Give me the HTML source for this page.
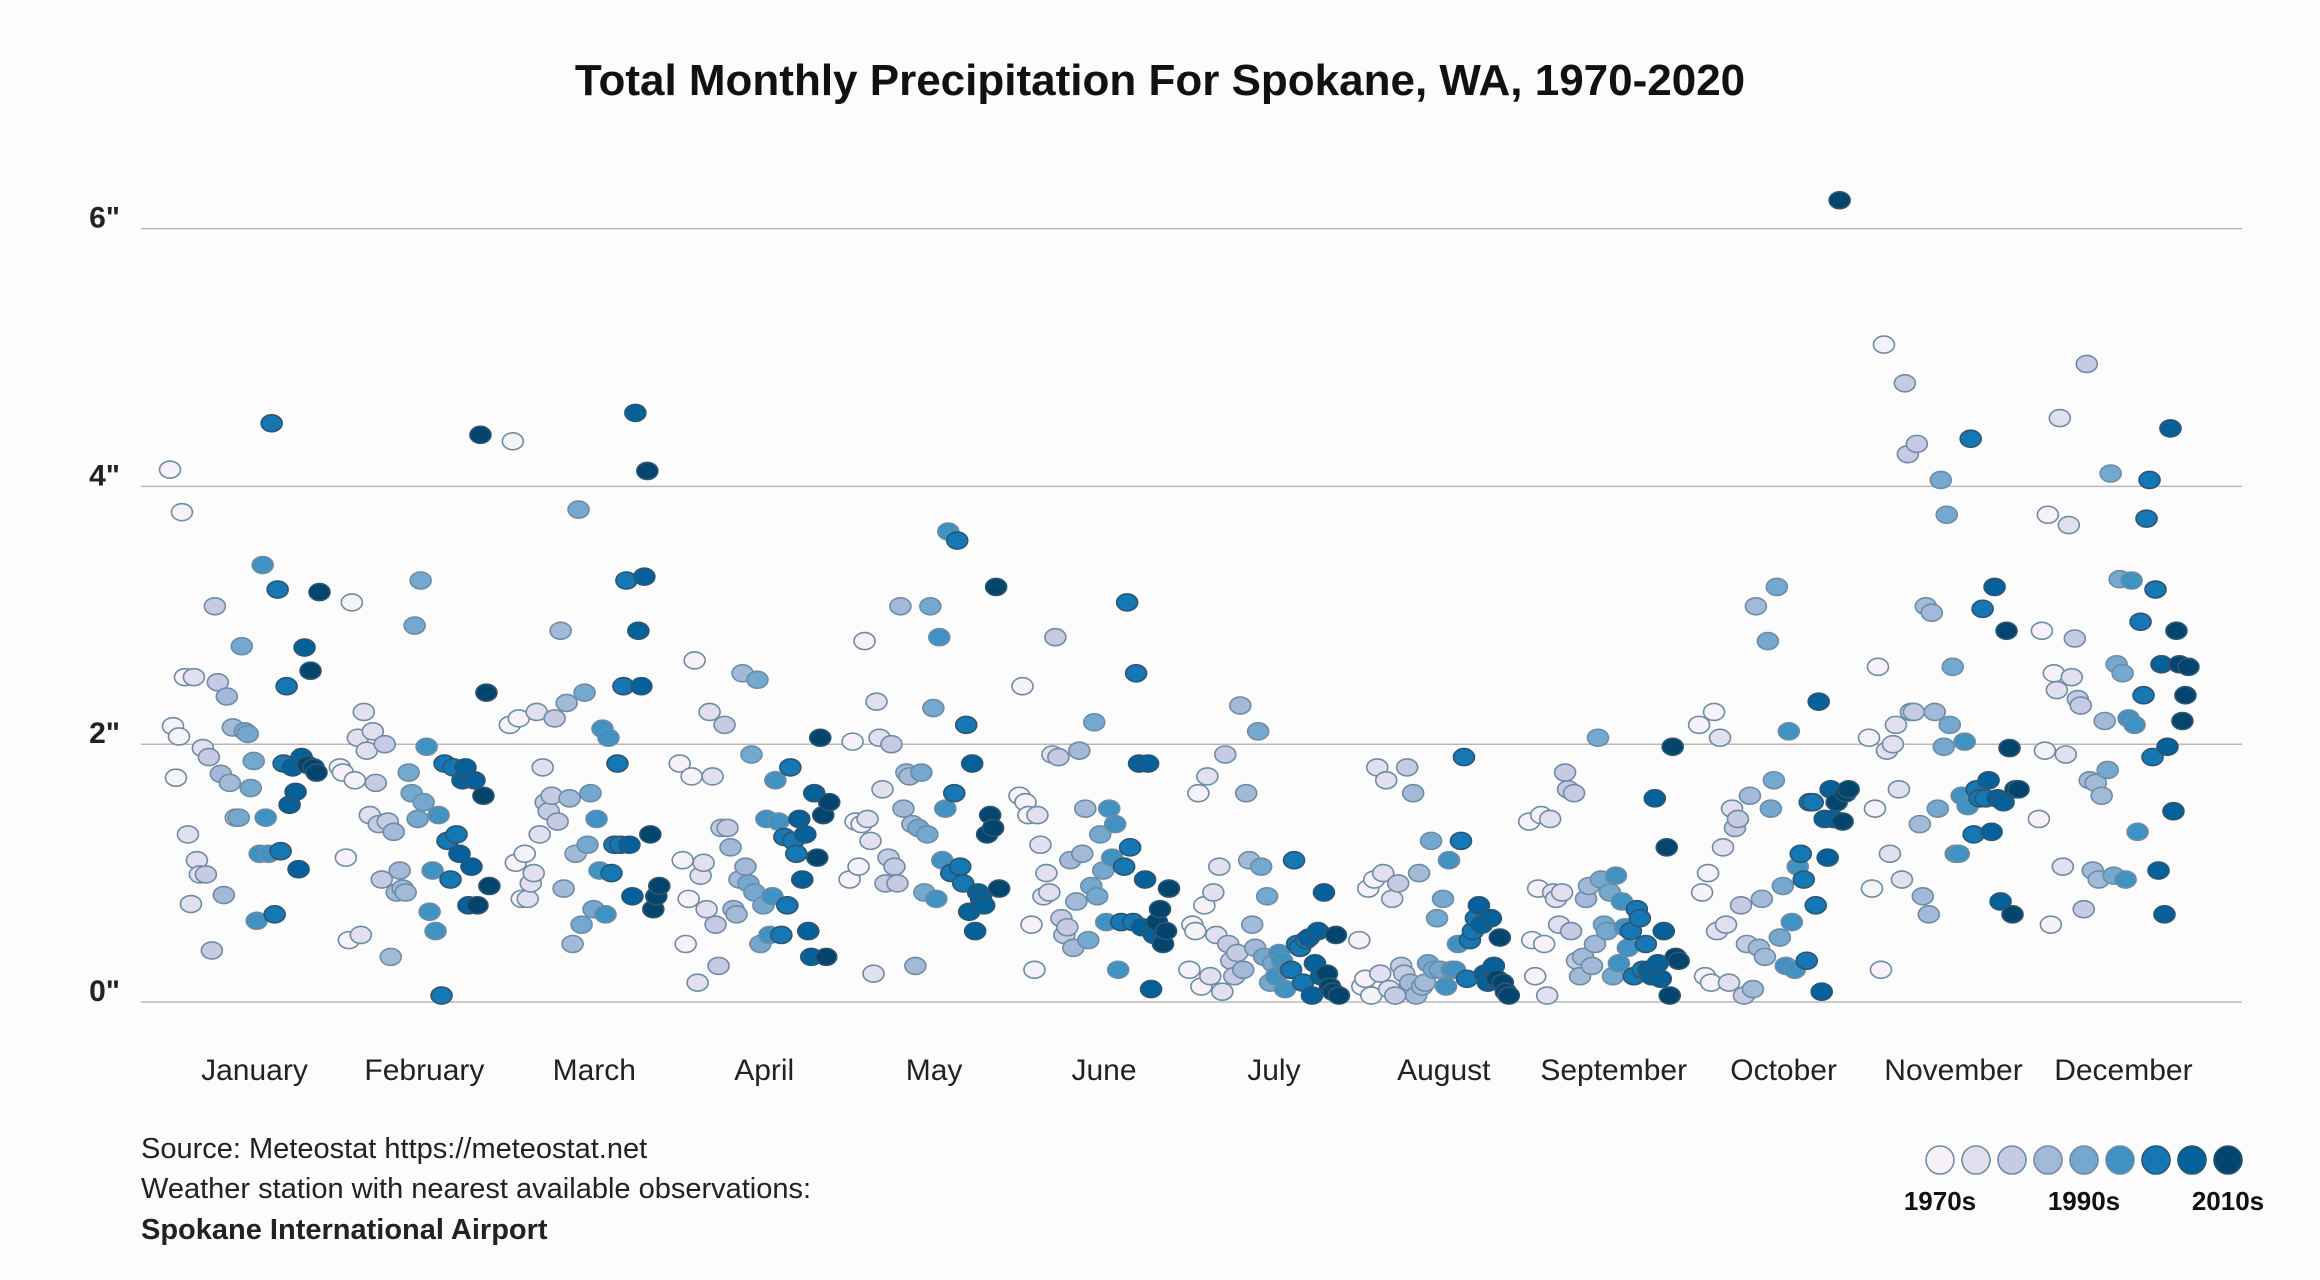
<!DOCTYPE html>
<html><head><meta charset="utf-8"><style>
html,body{margin:0;padding:0;background:#fdfcfd;}
svg{display:block;font-family:"Liberation Sans",sans-serif;}
</style></head><body>
<svg id="chart" width="2320" height="1280" viewBox="0 0 2320 1280">
<text x="1160" y="95" text-anchor="middle" font-size="44" font-weight="bold" fill="#111">Total Monthly Precipitation For Spokane, WA, 1970-2020</text>
<g id="grid"></g>
<g id="yaxis"></g>
<g id="xaxis"></g>
<g id="points"></g>
<g font-size="29" fill="#222">
<text x="141" y="1158">Source: Meteostat https://meteostat.net</text>
<text x="141" y="1198">Weather station with nearest available observations:</text>
<text x="141" y="1239" font-weight="bold">Spokane International Airport</text>
</g>
<g id="legend"></g>
</svg>
<script>
const months=["January","February","March","April","May","June","July","August","September","October","November","December"];
const yTicks=[0,2,4,6];
const yTickLabels=['0"','2"','4"','6"'];
const decadeColors=['#f6f2f8','#e2e0ee','#c6cbe3','#a2bad8','#75a8cf','#3f92c1','#1577b3','#06609a','#04456e'];
const legendLabels=["1970s","1990s","2010s"];
const janVals=[4.13,2.14,1.74,2.06,3.8,2.52,1.3,0.76,2.52,1.1,0.99,1.97,0.99,1.9,0.4,3.07,2.48,1.77,0.83,2.37,1.7,2.13,1.43,1.43,2.76,2.1,2.08,1.66,1.87,0.63,1.15,3.39,1.43,1.15,4.49,0.68,3.2,1.17,1.85,2.45,1.53,1.82,1.63,1.03,1.9,2.75,1.84,2.57,1.82,1.78,3.18];
const febVals=[1.82,1.78,1.12,0.48,3.1,1.72,2.05,0.52,2.25,1.95,1.45,2.1,1.7,1.38,0.95,2.0,1.4,0.35,1.32,0.85,1.02,0.88,0.85,1.78,1.62,2.92,1.42,3.27,1.55,1.98,0.7,1.02,0.55,1.45,0.05,1.85,1.25,0.95,1.82,1.3,1.15,1.72,1.82,0.75,1.05,1.72,0.75,4.4,1.6,2.4,0.9];
const marVals=[2.15,4.35,1.08,2.2,0.8,1.15,0.8,0.92,1.0,2.25,1.3,1.82,1.55,1.48,1.6,2.2,1.4,2.88,0.88,2.32,1.58,0.45,1.15,3.82,0.6,2.4,1.22,1.62,0.72,1.42,1.02,2.12,0.68,2.05,1.0,1.22,1.85,1.22,2.45,3.27,1.22,0.82,4.57,2.88,2.45,3.3,4.12,1.3,0.72,0.82,0.9];
const aprVals=[1.85,1.1,0.45,0.8,1.75,2.65,0.15,0.98,1.08,0.72,2.25,1.75,0.6,0.28,1.35,2.15,1.35,1.2,0.72,0.68,0.95,2.55,1.05,0.92,1.92,0.85,2.5,0.45,0.75,1.42,0.52,0.82,1.72,1.4,0.52,1.28,0.75,1.82,1.25,1.15,1.42,0.95,1.3,0.55,0.35,1.62,1.12,2.05,1.45,0.35,1.55];
const mayVals=[0.95,2.02,1.4,1.05,1.38,2.8,1.42,1.25,0.22,2.33,2.05,1.65,0.92,1.12,2.0,1.05,0.92,3.07,1.5,1.78,1.75,1.38,0.28,1.35,1.78,0.85,1.3,3.07,2.28,0.8,2.83,1.1,1.5,3.65,1.0,1.62,3.58,1.05,0.92,2.15,0.7,1.85,0.55,0.85,0.8,0.75,1.3,1.45,1.35,3.22,0.88];
const junVals=[1.6,2.45,1.55,1.45,0.6,0.25,1.45,1.22,0.82,1.0,0.85,1.92,2.83,1.9,0.65,0.52,0.58,1.1,0.42,0.78,1.95,1.15,1.5,0.48,0.9,2.17,0.82,1.3,1.02,0.62,1.5,1.12,1.38,0.25,0.62,1.05,3.1,1.2,0.62,2.55,1.85,0.58,0.95,1.85,0.1,0.52,0.62,0.72,0.45,0.55,0.88];
const julVals=[0.25,0.6,0.55,1.62,0.12,0.75,1.75,0.2,0.85,0.52,1.05,0.08,1.92,0.45,0.32,0.2,0.38,2.3,0.25,1.62,1.1,0.6,0.42,2.1,1.05,0.35,0.82,0.15,0.3,0.2,0.38,0.32,0.1,0.25,0.25,1.1,0.45,0.42,0.15,0.48,0.5,0.05,0.3,0.55,0.2,0.85,0.22,0.12,0.08,0.52,0.05];
const augVals=[0.48,0.12,0.18,0.88,0.05,0.95,1.82,0.22,1.0,1.72,0.1,0.8,0.05,0.92,0.28,0.22,1.82,0.15,1.62,0.05,1.0,0.12,0.15,0.3,1.25,0.25,0.65,0.25,0.8,0.12,1.1,0.25,0.25,0.45,1.25,1.9,0.18,0.48,0.55,0.65,0.75,0.6,0.22,0.15,0.65,0.28,0.18,0.5,0.15,0.08,0.05];
const sepVals=[1.4,0.48,0.2,0.88,1.45,0.45,0.05,1.42,0.85,0.8,0.6,0.85,1.78,1.65,0.55,1.62,0.32,0.2,0.35,0.8,0.9,0.28,0.45,2.05,0.95,0.6,0.55,0.85,0.2,0.98,0.3,0.78,0.58,0.42,0.55,0.2,0.72,0.65,0.25,0.45,0.25,0.2,1.58,0.3,0.18,0.55,1.2,0.05,1.98,0.35,0.32];
const octVals=[2.15,0.85,0.2,1.0,0.15,2.25,0.55,2.05,1.2,0.6,0.15,1.5,1.35,1.42,0.75,0.05,0.45,1.6,0.1,3.07,0.42,0.8,0.35,2.8,1.5,1.72,3.22,0.5,0.9,0.28,2.1,0.62,0.25,1.05,1.15,0.95,0.32,1.55,1.55,0.75,2.33,0.08,1.42,1.12,1.65,1.42,1.55,6.22,1.4,1.62,1.65];
const novVals=[2.05,0.88,1.5,2.6,0.25,5.1,1.95,1.15,2.0,2.15,1.65,0.95,4.8,4.25,2.25,2.25,4.33,1.38,0.82,3.07,0.68,3.02,2.25,1.5,4.05,1.98,3.78,2.15,2.6,1.15,1.15,1.6,2.02,1.52,4.37,1.3,1.65,1.58,3.05,1.58,1.72,1.32,3.22,1.58,0.78,1.55,2.88,1.97,0.68,1.65,1.65];
const decVals=[1.42,2.88,1.95,3.78,0.6,2.55,2.42,4.53,1.05,1.92,3.7,2.52,2.82,2.35,2.3,0.72,4.95,1.72,1.02,1.7,0.95,1.6,2.18,1.8,4.1,0.98,2.62,3.28,2.55,0.95,2.2,3.27,2.15,1.32,2.95,2.38,3.75,4.05,1.9,3.2,1.02,2.62,0.68,1.98,4.45,1.48,2.88,2.62,2.18,2.38,2.6];
const allVals=[janVals,febVals,marVals,aprVals,mayVals,junVals,julVals,augVals,sepVals,octVals,novVals,decVals];

const NS="http://www.w3.org/2000/svg";
const y0=1002, pxPerIn=128.9;
function yScale(v){return y0-v*pxPerIn;}
function monthCenter(m){return 254.5+m*169.9;}
function xScale(m,i){return monthCenter(m)-84.5+i*2.99;}
function mk(tag,attrs,parent){const e=document.createElementNS(NS,tag);for(const k in attrs)e.setAttribute(k,attrs[k]);parent.appendChild(e);return e;}

const grid=document.getElementById('grid'),yaxis=document.getElementById('yaxis'),xaxis=document.getElementById('xaxis'),pts=document.getElementById('points'),legend=document.getElementById('legend');
yTicks.forEach((t,k)=>{
  const l=mk('line',{x1:141,x2:2242,y1:yScale(t),y2:yScale(t),stroke:'#b9b9b9','stroke-width':1.5},grid);
  
  
  const tx=mk('text',{x:120,y:yScale(t)-1,'text-anchor':'end','font-size':30,'font-weight':'bold',fill:'#222'},yaxis);
  tx.textContent=yTickLabels[k];
  
  
});
months.forEach((m,k)=>{
  const tx=mk('text',{x:monthCenter(k),y:1080,'text-anchor':'middle','font-size':30,fill:'#222'},xaxis);
  tx.textContent=m;
  
  
});
allVals.forEach((vals,m)=>{
  vals.forEach((v,i)=>{
    const ci=Math.min(8,Math.floor(i*9/51));
    const e=mk('ellipse',{cx:xScale(m,i),cy:yScale(v),rx:10.5,ry:8.5,fill:decadeColors[ci],stroke:ci<6?'#6d8ca6':'#2d5673','stroke-width':1.6},pts);
    
    
  });
});
decadeColors.forEach((c,i)=>{
  const e=mk('circle',{cx:1940+i*36,cy:1160,r:14,fill:c,stroke:i<6?'#6d8ca6':'#2d5673','stroke-width':1.6},legend);
  
  
});
legendLabels.forEach((l,k)=>{
  const tx=mk('text',{x:1940+k*144,y:1210,'text-anchor':'middle','font-size':26,'font-weight':'bold',fill:'#111'},legend);
  tx.textContent=l;
  
  
});
</script>
</body></html>
